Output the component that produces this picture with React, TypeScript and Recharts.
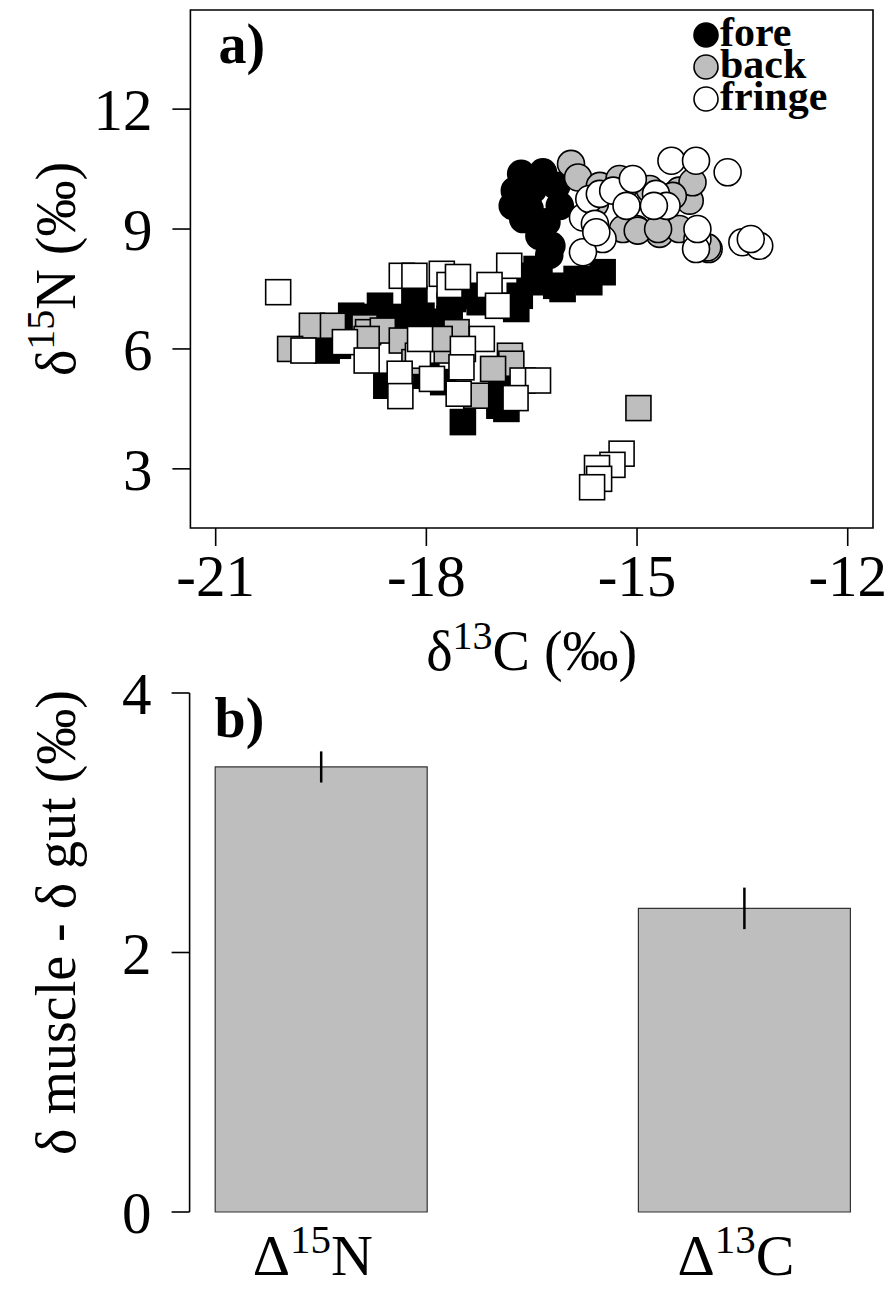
import React from "react";
import { ScatterChart, Scatter, BarChart, Bar, ErrorBar, XAxis, YAxis, ReferenceArea, Label } from "recharts";

const SERIF = "'Liberation Serif', 'Times New Roman', serif";

// panel a: [δ13C, δ15N] per sample, split by zone; squares and circles are the two tissues
const foreSquares: [number, number][] = [
  [-18.66, 7.08], [-19.07, 6.83], [-18.17, 7.25], [-18.07, 6.83], [-17.67, 7.08], [-17.29, 7.33],
  [-16.77, 7.08], [-16.53, 7.83], [-16.15, 7.58], [-16.43, 8.0], [-15.86, 7.75], [-15.49, 7.92],
  [-15.68, 7.67], [-16.06, 7.5], [-16.67, 7.33], [-19.54, 6.0], [-18.57, 5.08], [-17.48, 4.17],
  [-16.86, 4.5], [-17.76, 5.17], [-18.0, 5.33], [-16.93, 5.0], [-17.91, 6.68], [-17.62, 7.25],
  [-17.24, 7.17], [-16.72, 7.0], [-19.26, 6.08], [-16.39, 7.67], [-18.31, 6.8], [-17.81, 6.5],
  [-18.14, 6.67], [-19.42, 5.96], [-16.96, 4.58], [-17.67, 6.75], [-18.85, 6.8],
];
const foreCircles: [number, number][] = [
  [-16.65, 10.38], [-16.34, 10.42], [-16.74, 9.96], [-16.48, 10.0], [-16.15, 10.08], [-16.77, 9.58],
  [-16.53, 9.5], [-16.1, 9.58], [-16.62, 9.25], [-16.29, 9.17], [-16.39, 8.83], [-16.22, 8.58],
  [-16.25, 8.35], [-16.56, 9.75],
];
const backSquares: [number, number][] = [
  [-19.63, 6.58], [-19.33, 6.58], [-19.94, 6.0], [-18.88, 6.54], [-18.83, 6.42], [-18.62, 6.46],
  [-18.85, 6.25], [-18.35, 6.21], [-17.57, 6.42], [-17.71, 5.96], [-17.81, 6.25], [-16.81, 5.83],
  [-16.79, 5.63], [-17.05, 5.5], [-17.29, 4.83], [-18.17, 5.67], [-14.98, 4.52],
];
const backCircles: [number, number][] = [
  [-15.94, 10.63], [-15.84, 10.29], [-15.53, 10.08], [-15.15, 10.13], [-14.4, 9.96], [-14.25, 9.71],
  [-14.21, 10.17], [-15.01, 9.0], [-14.68, 8.88], [-14.4, 9.0], [-13.98, 8.5], [-15.2, 9.0],
  [-14.49, 9.83], [-14.99, 8.96], [-14.7, 9.0], [-14.0, 8.54], [-15.25, 10.25], [-14.82, 10.0],
  [-15.6, 9.63],
];
const fringeSquares: [number, number][] = [
  [-20.11, 7.42], [-18.35, 7.83], [-18.17, 7.83], [-17.78, 7.88], [-17.67, 7.6], [-17.55, 7.8],
  [-16.82, 8.08], [-17.1, 7.6], [-16.98, 7.08], [-19.75, 5.96], [-19.16, 6.17], [-18.85, 5.71],
  [-18.12, 5.83], [-18.09, 6.25], [-17.21, 6.25], [-17.48, 6.0], [-18.38, 5.38], [-17.92, 5.25],
  [-17.5, 5.54], [-17.54, 4.88], [-16.63, 5.21], [-16.41, 5.21], [-18.37, 4.82], [-16.73, 4.77],
  [-15.22, 3.38], [-15.35, 3.1], [-15.57, 3.02], [-15.54, 2.75], [-15.64, 2.54],
];
const fringeCircles: [number, number][] = [
  [-15.77, 9.29], [-15.68, 9.75], [-15.6, 9.13], [-15.53, 9.88], [-15.34, 9.96], [-15.15, 9.58],
  [-15.06, 10.25], [-14.73, 9.88], [-14.58, 9.58], [-14.51, 10.71], [-14.16, 10.71], [-13.71, 10.42],
  [-15.49, 8.75], [-15.77, 8.42], [-15.58, 8.92], [-14.14, 8.75], [-14.16, 8.5], [-13.5, 8.67],
  [-13.26, 8.58], [-13.38, 8.75], [-14.76, 9.58], [-14.14, 9.0],
];

const zoneNames = ["fore", "back", "fringe"];
const zoneFills = ["#000000", "#bebebe", "#ffffff"];

const xTicksA = [-21, -18, -15, -12];
const yTicksA = [3, 6, 9, 12];

// panel b: mean muscle - gut offset and its standard error
const offsetMass = ["15", "13"];
const offsetElement = ["N", "C"];
const offsetMean = [3.43, 2.34];
const offsetSE = [0.12, 0.16];
const yTicksB = [0, 2, 4];

const toPoints = (arr: [number, number][]) => arr.map(([x, y]) => ({ x, y }));

// barplot layout: width 1, space 1 -> midpoints at 1.5, 3.5
const barData = offsetMean.map((mean, i) => ({
  pos: 2 * i + 1.5,
  mean,
  se: offsetSE[i],
  mass: offsetMass[i],
  el: offsetElement[i],
}));

const squareShape = (fill: string) => (p: any) => (
  <rect x={p.cx - 12.5} y={p.cy - 12.5} width={25} height={25} fill={fill} stroke="#000" strokeWidth={1.6} />
);
const circleShape = (fill: string) => (p: any) => (
  <circle cx={p.cx} cy={p.cy} r={13.5} fill={fill} stroke="#000" strokeWidth={1.6} />
);

function XTick(props: any) {
  const { x, y, payload } = props;
  return (
    <text x={x} y={y + 50} textAnchor="middle" fontFamily={SERIF} fontSize={59} fill="#000">
      {payload.value}
    </text>
  );
}

function YTick(props: any) {
  const { x, y, payload } = props;
  return (
    <text x={x - 20} y={y + 21} textAnchor="end" fontFamily={SERIF} fontSize={59} fill="#000">
      {payload.value}
    </text>
  );
}

function BarTick(props: any) {
  const { x, y, payload } = props;
  const d = barData.find((b) => b.pos === payload.value);
  if (!d) return null;
  return (
    <text x={x - 8} y={y + 63} textAnchor="middle" fontFamily={SERIF} fontSize={58} fill="#000">
      Δ<tspan dy={-22} fontSize={41}>{d.mass}</tspan>
      <tspan dy={22}>{d.el}</tspan>
    </text>
  );
}

const xTitleA = (p: any) => {
  const { x, y, width } = p.viewBox;
  return (
    <text x={x + width / 2} y={y + 142} textAnchor="middle" fontFamily={SERIF} fontSize={56} fill="#000">
      δ<tspan dy={-21} fontSize={40}>13</tspan>
      <tspan dy={21}>C (‰)</tspan>
    </text>
  );
};

const yTitleA = (p: any) => {
  const { x, y, height } = p.viewBox;
  const bx = x + 75;
  const cy = y + height / 2;
  return (
    <text x={bx} y={cy} transform={`rotate(-90, ${bx}, ${cy})`} textAnchor="middle" fontFamily={SERIF} fontSize={56} fill="#000">
      δ<tspan dy={-21} fontSize={40}>15</tspan>
      <tspan dy={21}>N (‰)</tspan>
    </text>
  );
};

// panel tag and the zone key, placed inside the plot frame
const panelA = (p: any) => {
  const { x, y, width } = p.viewBox;
  const kx = x + width - 167;
  return (
    <g>
      <text x={x + 28} y={y + 53} fontFamily={SERIF} fontWeight="bold" fontSize={56} fill="#000">a)</text>
      {zoneNames.map((name, i) => (
        <g key={name}>
          <circle cx={kx} cy={y + 25 + i * 32} r={12} fill={zoneFills[i]} stroke="#000" strokeWidth={1.6} />
          <text x={kx + 14} y={y + 36 + i * 32} fontFamily={SERIF} fontWeight="bold" fontSize={42} fill="#000">
            {name}
          </text>
        </g>
      ))}
    </g>
  );
};

const yTitleB = (p: any) => {
  const { x, y, width, height } = p.viewBox;
  const bx = x + 75;
  const cy = y + height / 2 - 30;
  return (
    <g>
      <text x={bx} y={cy} transform={`rotate(-90, ${bx}, ${cy})`} textAnchor="middle" fontFamily={SERIF} fontSize={56} fill="#000">
        δ muscle - δ gut (‰)
      </text>
      <text x={x + width + 25} y={y + 44} fontFamily={SERIF} fontWeight="bold" fontSize={56} fill="#000">b)</text>
    </g>
  );
};

const tickStroke = { stroke: "#000", strokeWidth: 1.6 };

export default function App() {
  const squares = [foreSquares, backSquares, fringeSquares];
  const circles = [foreCircles, backCircles, fringeCircles];
  return (
    <div style={{ position: "absolute", left: 0, top: 0, width: 893, height: 1289, background: "#fff" }}>
      <div style={{ position: "absolute", left: 0, top: 0 }}>
        <ScatterChart width={893} height={700} margin={{ top: 10, right: 20, bottom: 0, left: 0 }}>
          <XAxis
            type="number"
            dataKey="x"
            domain={[-21.36, -11.64]}
            ticks={xTicksA}
            interval={0}
            allowDataOverflow
            height={172}
            axisLine={false}
            tickLine={tickStroke}
            tickSize={18}
            tickMargin={0}
            tick={<XTick />}
          >
            <Label content={xTitleA} />
          </XAxis>
          <YAxis
            type="number"
            dataKey="y"
            domain={[1.52, 14.48]}
            ticks={yTicksA}
            interval={0}
            allowDataOverflow
            width={190.4}
            axisLine={false}
            tickLine={tickStroke}
            tickSize={18}
            tickMargin={0}
            tick={<YTick />}
          >
            <Label content={yTitleA} />
          </YAxis>
          {zoneNames.map((name, i) => (
            <Scatter
              key={`${name}-sq`}
              name={`${name} squares`}
              data={toPoints(squares[i])}
              shape={squareShape(zoneFills[i])}
              isAnimationActive={false}
            />
          ))}
          {zoneNames.map((name, i) => (
            <Scatter
              key={`${name}-ci`}
              name={`${name} circles`}
              data={toPoints(circles[i])}
              shape={circleShape(zoneFills[i])}
              isAnimationActive={false}
            />
          ))}
          <ReferenceArea
            x1={-21.36}
            x2={-11.64}
            y1={1.52}
            y2={14.48}
            fill="none"
            fillOpacity={0}
            stroke="#000"
            strokeWidth={1.6}
            ifOverflow="visible"
            label={panelA}
          />
        </ScatterChart>
      </div>
      <div style={{ position: "absolute", left: 0, top: 640 }}>
        <BarChart width={893} height={649} data={barData} margin={{ top: 53, right: 17.8, bottom: 0, left: 0 }}>
          <XAxis
            type="number"
            dataKey="pos"
            domain={[0.88, 4.12]}
            ticks={barData.map((d) => d.pos)}
            interval={0}
            allowDataOverflow
            height={77}
            axisLine={false}
            tickLine={false}
            tickSize={0}
            tickMargin={0}
            tick={<BarTick />}
          />
          <YAxis
            type="number"
            domain={[0, 4]}
            ticks={yTicksB}
            interval={0}
            width={189.6}
            axisLine={tickStroke}
            tickLine={tickStroke}
            tickSize={18}
            tickMargin={0}
            tick={<YTick />}
          >
            <Label content={yTitleB} />
          </YAxis>
          <Bar dataKey="mean" fill="#bebebe" stroke="#333" strokeWidth={1.2} barSize={212} isAnimationActive={false}>
            <ErrorBar dataKey="se" width={0} stroke="#000" strokeWidth={2.5} isAnimationActive={false} />
          </Bar>
        </BarChart>
      </div>
    </div>
  );
}
